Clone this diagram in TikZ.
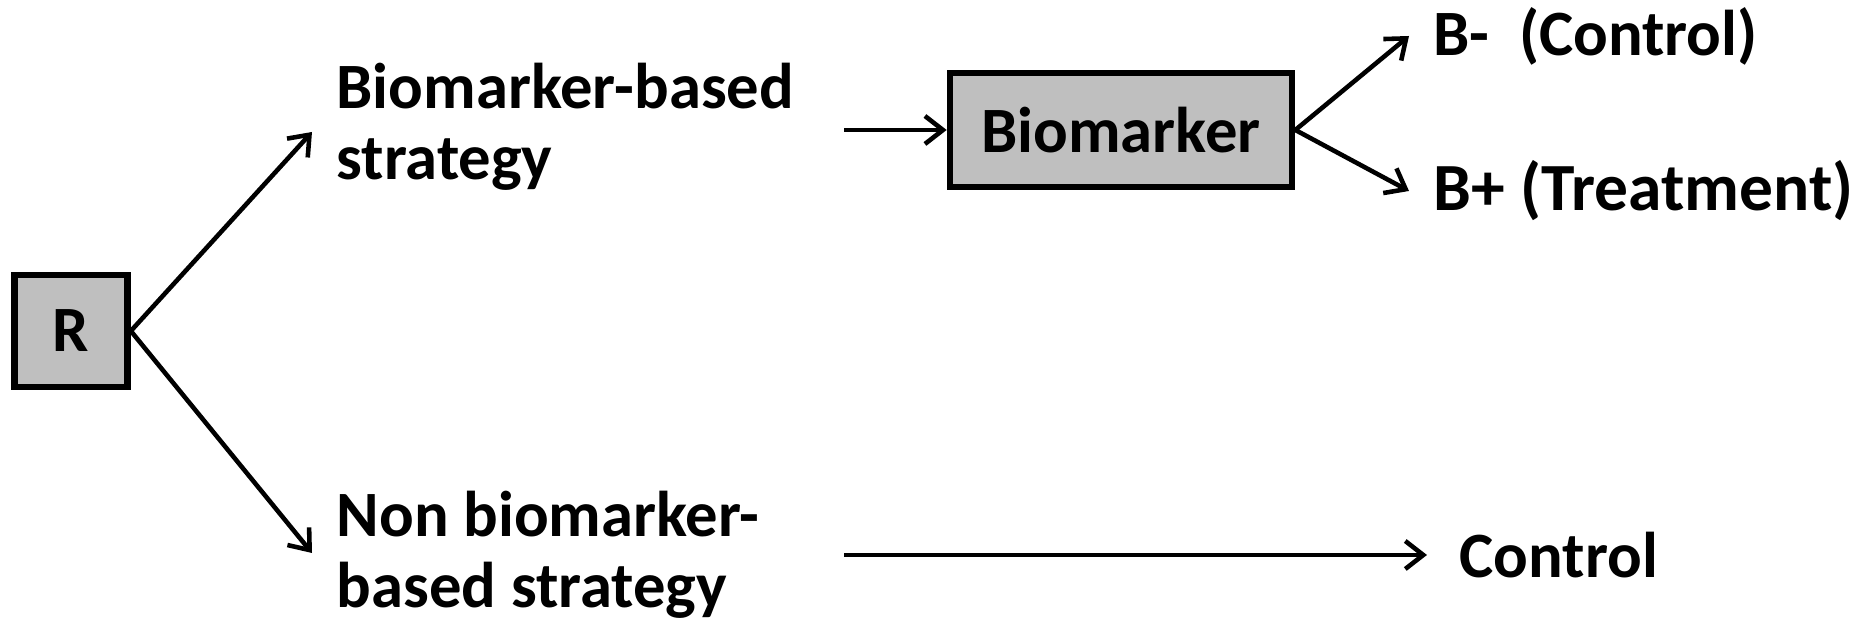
\documentclass[tikz,border=0pt]{standalone}
\usepackage{fontspec}
\setmainfont{Carlito}
\usetikzlibrary{arrows.meta,positioning}
\begin{document}
\begin{tikzpicture}
\tikzset{
    every node/.style={font=\fontsize{18.4}{20.2}\selectfont\bfseries, align=left},
    graybox/.style={draw, line width=1.9pt, fill=gray!50, inner sep=0pt},
    label/.style={inner sep=0pt, anchor=west},
    arr/.style={line width=1.3pt, -{Straight Barb[length=1.8mm, width=2.8mm]}}
}
\useasboundingbox (0,0) rectangle (18.72,6.24);

\node[graybox, minimum width=1.13cm, minimum height=1.12cm] (R) at (0.71,2.93) {R};
\node[label] (bbs) at (3.36,4.97) {Biomarker-based\\strategy};
\node[label] (nbs) at (3.36,0.69) {Non biomarker-\\based strategy};
\node[graybox, minimum width=3.42cm, minimum height=1.14cm] (bio) at (11.21,4.94) {Biomarker};
\node[label] (bneg) at (14.33,5.88) {B-\ \ (Control)};
\node[label, font=\fontsize{19.2}{20.2}\selectfont\bfseries] (bpos) at (14.33,4.33) {B+ (Treatment)};
\node[label] (ctrl) at (14.59,0.69) {Control};

\coordinate (split) at (8.44,4.94);

\draw[arr] (R.east) -- ([xshift=-0.24cm,yshift=-0.05cm]bbs.west);
\draw[arr] (R.east) -- ([xshift=-0.24cm,yshift=0.02cm]nbs.west);
\draw[arr] (split) -- (bio.west);
\draw[arr] (bio.east) -- ([xshift=-0.24cm]bneg.west);
\draw[arr] (bio.east) -- ([xshift=-0.24cm]bpos.west);
\draw[arr] (split |- ctrl.west) -- ([xshift=-0.32cm]ctrl.west);
\end{tikzpicture}
\end{document}
